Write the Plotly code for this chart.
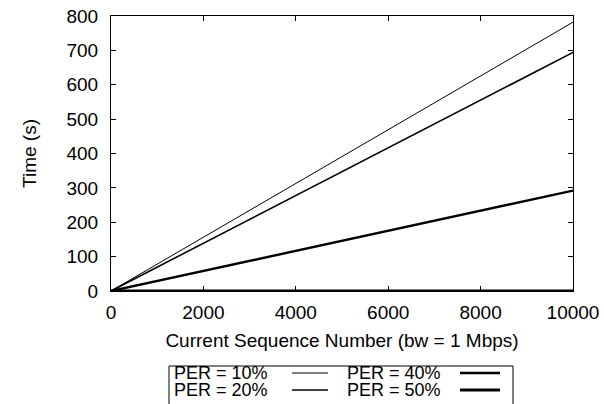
import plotly.graph_objects as go

seq = [0, 2000, 4000, 6000, 8000, 10000]
per10 = [0, 156, 313, 469, 626, 782]
per20 = [0, 139, 278, 416, 555, 694]
per40 = [0, 58, 117, 175, 234, 292]
per50 = [0, 0, 0, 0, 0, 0]

x_ticks = [0, 2000, 4000, 6000, 8000, 10000]
x_ticktext = ["0", "2000", "4000", "6000", "8000", "10000"]
y_ticks = [0, 100, 200, 300, 400, 500, 600, 700, 800]

names = ["PER = 10%", "PER = 20%", "PER = 40%", "PER = 50%"]
series = [per10, per20, per40, per50]
widths = [1, 1.6, 2.4, 3.2]

W, H = 604, 404
L, R, T, B = 111, 573, 16, 291
FONT = "Liberation Sans, Arial, Helvetica, sans-serif"
FS = 19
LFS = 18

def px(x):
    return (x - L) / (R - L)

def py(y):
    return (B - y) / (B - T)

fig = go.Figure()
for nm, ys, w in zip(names, series, widths):
    fig.add_trace(go.Scatter(x=seq, y=ys, mode="lines", name=nm,
                             line=dict(color="black", width=w),
                             cliponaxis=False, showlegend=False))

axis_common = dict(showline=True, linecolor="black", linewidth=1, mirror="ticks",
                   ticks="inside", ticklen=5, tickcolor="black", showgrid=False,
                   zeroline=False, automargin=False,
                   tickfont=dict(family=FONT, size=FS, color="black"))

fig.update_layout(
    width=W, height=H,
    margin=dict(l=L, r=W - R, t=T, b=H - B, autoexpand=False),
    paper_bgcolor="white", plot_bgcolor="white",
    font=dict(family=FONT, size=FS, color="black"),
    xaxis=dict(range=[0, 10000], tickvals=x_ticks, ticktext=x_ticktext,
               ticklabelstandoff=4,
               title=dict(text="Current Sequence Number (bw = 1 Mbps)", standoff=11,
                          font=dict(family=FONT, size=FS)), **axis_common),
    yaxis=dict(range=[0, 800], tickvals=y_ticks,
               ticklabelstandoff=8,
               title=dict(text="Time (s)", standoff=24, font=dict(family=FONT, size=FS)),
               **axis_common),
)

# legend box (gnuplot-style: text then line sample)
shapes = [dict(type="rect", xref="paper", yref="paper",
               x0=px(169), x1=px(513), y0=py(412), y1=py(366),
               line=dict(color="black", width=1), fillcolor="rgba(0,0,0,0)")]
annotations = []
cols = [(172, 292, 328), (345, 460, 500)]
rows = [373, 390]
for i, (nm, w) in enumerate(zip(names, widths)):
    c, r = divmod(i, 2)
    tx, lx0, lx1 = cols[c]
    yy = rows[r]
    annotations.append(dict(text=nm, xref="paper", yref="paper", x=px(tx), y=py(yy),
                            xanchor="left", yanchor="middle", showarrow=False,
                            font=dict(family=FONT, size=LFS, color="black")))
    shapes.append(dict(type="line", xref="paper", yref="paper",
                       x0=px(lx0), x1=px(lx1), y0=py(yy), y1=py(yy),
                       line=dict(color="black", width=w)))
fig.update_layout(shapes=shapes, annotations=annotations)

fig.write_html("out.html", config={"displayModeBar": False},
               post_script="document.body.style.margin='0px';document.body.style.overflow='hidden';")
